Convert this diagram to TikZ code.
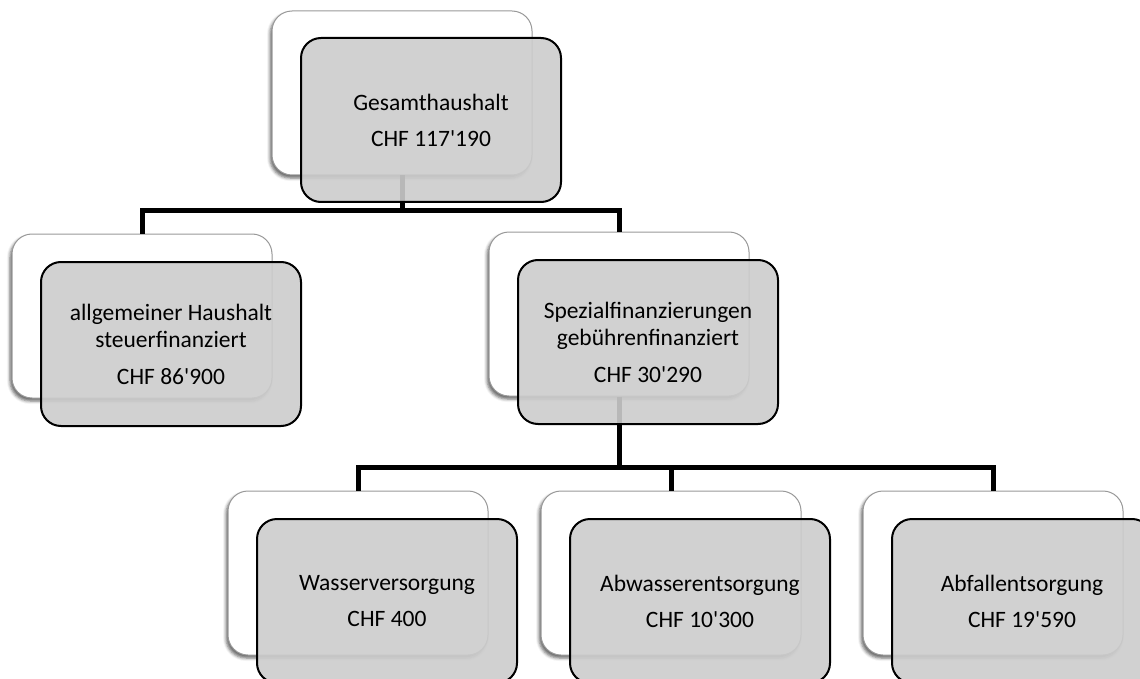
\documentclass[tikz,border=0pt]{standalone}
\usepackage{fontspec}
\setmainfont{Carlito}
\newfontfamily\boxfont{Carlito}
\usetikzlibrary{positioning, shadows.blur}

\begin{document}
\begin{tikzpicture}[x=1pt, y=1pt,
    hinten/.style={draw=black!40, line width=1pt, fill=white, rounded corners=20pt,
        minimum width=260pt, minimum height=164pt,
        blur shadow={shadow xshift=-2pt, shadow yshift=-3pt, shadow blur radius=3pt, shadow opacity=60}},
    vorne/.style={draw=black, line width=2pt, fill=black!20, fill opacity=0.9, text opacity=1,
        rounded corners=20pt, minimum width=260pt, minimum height=164pt,
        align=center, font=\boxfont\fontsize{23.5}{27}\selectfont},
    verbinder/.style={black, line width=5pt}]
            \useasboundingbox (0,0) rectangle (1140,-679);

            % Hintere Kaesten
            \node[hinten] (gesB) at (402,-93) {};
            \node[hinten] (allgB) at (142,-316) {};
            \node[hinten] (spezB) at (619,-314) {};
            \node[hinten] (wasB) at (358,-573) {};
            \node[hinten] (abwB) at (671,-573) {};
            \node[hinten] (abfB) at (993,-573) {};

            % Verbindungen
            \coordinate[below=35pt of gesB] (bus1);
            \coordinate[below=71pt of spezB] (bus2);
            \draw[verbinder] (gesB.south) -- (bus1) -| (allgB.north);
            \draw[verbinder] (bus1) -| (spezB.north);
            \draw[verbinder] (spezB.south) -- (bus2) -| (wasB.north);
            \draw[verbinder] (bus2) -| (abwB.north);
            \draw[verbinder] (bus2) -| (abfB.north);

            % Vordere Kaesten
            \node[vorne] (ges) at ([shift={(29,-27)}]gesB.center) {Gesamthaushalt\\[9pt]CHF 117'190};
            \node[vorne] (allg) at ([shift={(29,-28)}]allgB.center) {allgemeiner Haushalt\\steuerfinanziert\\[10pt]CHF 86'900};
            \node[vorne] (spez) at ([shift={(29,-28)}]spezB.center) {Spezialfinanzierungen\\gebührenfinanziert\\[10pt]CHF 30'290};
            \node[vorne] (was) at ([shift={(29,-28)}]wasB.center) {Wasserversorgung\\[9pt]CHF 400};
            \node[vorne] (abw) at ([shift={(29,-28)}]abwB.center) {Abwasserentsorgung\\[9pt]CHF 10'300};
            \node[vorne] (abf) at ([shift={(29,-28)}]abfB.center) {Abfallentsorgung\\[9pt]CHF 19'590};
        \end{tikzpicture}
\end{document}
